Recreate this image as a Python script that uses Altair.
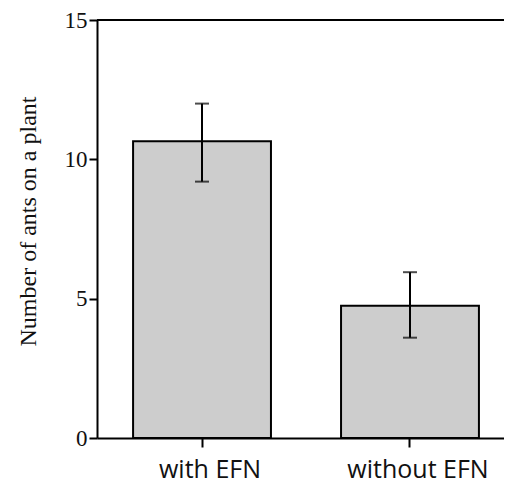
import altair as alt
import pandas as pd

groups = ["with EFN", "without EFN"]
means = [10.65, 4.75]
err_low = [9.2, 3.6]
err_high = [12.0, 5.95]

df = pd.DataFrame({"group": groups, "mean": means, "lo": err_low, "hi": err_high})

W, H = 407, 418

x_enc = alt.X("group:N", sort=groups,
              scale=alt.Scale(paddingInner=0.337, paddingOuter=0.147, align=0.59),
              axis=alt.Axis(title=None, labelAngle=0, labelFont="Open Sans",
                            labelFontSize=25, labelColor="#111", tickSize=9,
                            labelPadding=10, labelOffset=8,
                            domainColor="black", domainWidth=2,
                            tickColor="black", tickWidth=2))
y_scale = alt.Scale(domain=[0, 15], nice=False)

base = alt.Chart(df)

bars = base.mark_bar(fill="#cdcdcd", stroke="black", strokeWidth=2).encode(
    x=x_enc,
    y=alt.Y("mean:Q", scale=y_scale,
            axis=alt.Axis(values=[0, 5, 10, 15], grid=False,
                          title="Number of ants on a plant",
                          titleFont="Liberation Serif", titleFontSize=24,
                          titleFontWeight="normal", titleColor="#111",
                          titleAngle=270, titleX=-62, titleY=201,
                          titleBaseline="alphabetic",
                          labelFont="Liberation Serif", labelFontSize=23,
                          labelColor="#111", labelPadding=2, tickSize=8,
                          tickColor="black", tickWidth=2,
                          domainColor="black", domainWidth=2)),
)

err = base.mark_rule(color="black", strokeWidth=2).encode(
    x=alt.X("group:N", sort=groups), y="lo:Q", y2="hi:Q")
cap_hi = base.mark_tick(color="black", thickness=2, size=14, orient="horizontal").encode(
    x=alt.X("group:N", sort=groups), y="hi:Q")
cap_lo = base.mark_tick(color="black", thickness=2, size=14, orient="horizontal").encode(
    x=alt.X("group:N", sort=groups), y="lo:Q")

top_line = alt.Chart(pd.DataFrame({"v": [15]})).mark_rule(color="black", strokeWidth=2).encode(
    y=alt.Y("v:Q", scale=y_scale), x=alt.value(0), x2=alt.value(W))

chart = alt.layer(bars, err, cap_hi, cap_lo, top_line).properties(
    width=W, height=H,
    autosize=alt.AutoSizeParams(type="none"),
    padding={"left": 89, "top": 12, "right": 0, "bottom": 45},
).configure_view(stroke=None)

chart.save("out.html", embed_options={"renderer": "svg", "actions": False})
